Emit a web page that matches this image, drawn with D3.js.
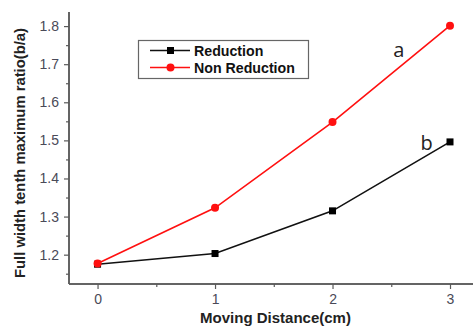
<!DOCTYPE html>
<html>
<head>
<meta charset="utf-8">
<script src="https://cdn.jsdelivr.net/npm/d3@7"></script>
<style>
  html, body { margin: 0; padding: 0; background: #fff; }
  svg { display: block; }
</style>
</head>
<body>
<svg id="chart" width="473" height="327"></svg>
<script>
// Moving distance (cm) on the x axis
const distances = [0, 1, 2, 3];
// Full width tenth maximum ratio (b/a) for each series
const reductionValues = [1.175, 1.203, 1.315, 1.496];
const nonReductionValues = [1.177, 1.323, 1.548, 1.801];
const xTicks = [0, 1, 2, 3];
const yTicks = [1.2, 1.3, 1.4, 1.5, 1.6, 1.7, 1.8];
const seriesNames = ["Reduction", "Non Reduction"];

const svg = d3.select("#chart");
const margin = { left: 69, top: 12, right: 0, bottom: 43 };
const W = 473, H = 327;

const x = d3.scaleLinear().domain([-0.243, 3.2]).range([margin.left, W + 0.5]);
const y = d3.scaleLinear().domain([1.123, 1.837]).range([H - margin.bottom, margin.top]);

const axisColor = "#5a5a5a";
const tickText = "#4a4a58";
const sans = "Liberation Sans, Arial, sans-serif";

// x axis
const xAxis = svg.append("g").attr("transform", `translate(0,${H - margin.bottom})`);
xAxis.call(d3.axisBottom(x).tickValues(xTicks).tickFormat(d3.format("d")).tickSize(5).tickPadding(5));
xAxis.append("g").call(d3.axisBottom(x).tickValues([0.5, 1.5, 2.5]).tickFormat("").tickSize(3));

// y axis
const yAxis = svg.append("g").attr("transform", `translate(${margin.left},0)`);
yAxis.call(d3.axisLeft(y).tickValues(yTicks).tickFormat(d3.format(".1f")).tickSize(5).tickPadding(5));
yAxis.append("g").call(d3.axisLeft(y).tickValues(d3.range(1.15, 1.84, 0.1)).tickFormat("").tickSize(3));

svg.selectAll(".domain").attr("stroke", axisColor).attr("stroke-width", 1.5);
svg.selectAll(".tick line").attr("stroke", axisColor).attr("stroke-width", 1.2);
svg.selectAll(".tick text")
  .attr("fill", tickText)
  .style("font-family", sans)
  .style("font-size", "14px");
// plain axis lines without outer end ticks
xAxis.selectAll(".domain").attr("d", `M${x.range()[0]},0H${x.range()[1]}`);
yAxis.selectAll(".domain").attr("d", `M0,${y.range()[0]}V${y.range()[1]}`);

// axis titles
svg.append("text")
  .attr("x", 275.5).attr("y", 322.5)
  .attr("text-anchor", "middle")
  .style("font-family", sans)
  .style("font-weight", "bold").style("font-size", "15px")
  .attr("fill", "#222")
  .text("Moving Distance(cm)");

svg.append("text")
  .attr("transform", "translate(25,153) rotate(-90)")
  .attr("text-anchor", "middle")
  .style("font-family", sans)
  .style("font-weight", "bold").style("font-size", "14.8px")
  .attr("fill", "#222")
  .text("Full width tenth maximum ratio(b/a)");

const line = d3.line().x((d, i) => x(distances[i])).y(d => y(d));

// series lines
svg.append("path").datum(reductionValues)
  .attr("d", line).attr("fill", "none").attr("stroke", "#111").attr("stroke-width", 1.6);
svg.append("path").datum(nonReductionValues)
  .attr("d", line).attr("fill", "none").attr("stroke", "#ff1010").attr("stroke-width", 1.6);

// markers
svg.selectAll(".sq").data(reductionValues).enter().append("rect")
  .attr("x", (d, i) => x(distances[i]) - 3.5).attr("y", d => y(d) - 3.5)
  .attr("width", 7).attr("height", 7).attr("fill", "#000");
svg.selectAll(".ci").data(nonReductionValues).enter().append("circle")
  .attr("cx", (d, i) => x(distances[i])).attr("cy", d => y(d))
  .attr("r", 4).attr("fill", "#ff1010");

// legend
const lg = svg.append("g");
lg.append("rect").attr("x", 138.5).attr("y", 40.5).attr("width", 170).attr("height", 38)
  .attr("fill", "#fff").attr("stroke", "#666").attr("stroke-width", 1.2);
const rows = [
  { name: seriesNames[0], color: "#111", shape: "square", yy: 50.5 },
  { name: seriesNames[1], color: "#ff1010", shape: "circle", yy: 67.5 }
];
rows.forEach(r => {
  lg.append("line").attr("x1", 150).attr("x2", 190).attr("y1", r.yy).attr("y2", r.yy)
    .attr("stroke", r.color).attr("stroke-width", 1.6);
  if (r.shape === "square") {
    lg.append("rect").attr("x", 167).attr("y", r.yy - 3.5).attr("width", 7).attr("height", 7).attr("fill", "#000");
  } else {
    lg.append("circle").attr("cx", 170.5).attr("cy", r.yy).attr("r", 4).attr("fill", r.color);
  }
  lg.append("text").attr("x", 194).attr("y", r.yy + 5)
    .style("font-family", sans)
    .style("font-weight", "bold").style("font-size", "14.2px")
    .attr("fill", "#111").text(r.name);
});

// curve labels
svg.append("text").attr("x", 398.7).attr("y", 56.7).attr("text-anchor", "middle")
  .style("font-family", "Open Sans, DejaVu Sans, sans-serif").style("font-size", "20px")
  .attr("fill", "#222").text("a");
svg.append("text").attr("x", 426.7).attr("y", 150).attr("text-anchor", "middle")
  .style("font-family", "Open Sans, DejaVu Sans, sans-serif").style("font-size", "20px")
  .attr("fill", "#222").text("b");
</script>
</body>
</html>
